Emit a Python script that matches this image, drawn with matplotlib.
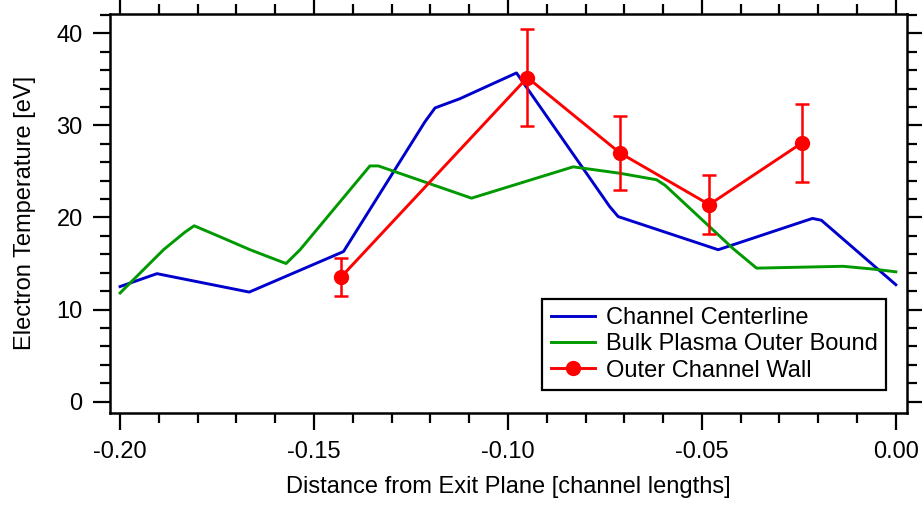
import matplotlib
matplotlib.use("Agg")
import matplotlib.pyplot as plt
from matplotlib.lines import Line2D
from matplotlib.ticker import MultipleLocator, FormatStrFormatter

plt.rcParams['font.family'] = ['Liberation Sans', 'DejaVu Sans']

# Channel Centerline
cl_x = [-0.2000, -0.1905, -0.1667, -0.1424, -0.1214, -0.1188, -0.1124, -0.0978,
        -0.0738, -0.0716, -0.0458, -0.0215, -0.0192, 0.0000]
cl_y = [12.5, 13.9, 11.9, 16.3, 30.4, 31.9, 32.9, 35.7,
        21.2, 20.1, 16.5, 19.9, 19.7, 12.7]

# Bulk Plasma Outer Bound
bp_x = [-0.2000, -0.1888, -0.1833, -0.1809, -0.1742, -0.1665, -0.1597, -0.1572,
        -0.1536, -0.1356, -0.1334, -0.1094, -0.0832, -0.0711, -0.0617, -0.0595,
        -0.0419, -0.0359, -0.0136, -0.0059, 0.0000]
bp_y = [11.8, 16.5, 18.4, 19.1, 17.9, 16.5, 15.4, 15.0,
        16.5, 25.6, 25.6, 22.1, 25.5, 24.8, 24.1, 23.5,
        16.6, 14.5, 14.7, 14.4, 14.1]

# Outer Channel Wall (with error bars)
ow_x = [-0.1431, -0.0950, -0.0711, -0.0481, -0.0242]
ow_y = [13.5, 35.2, 27.0, 21.4, 28.1]
ow_err = [2.05, 5.3, 4.0, 3.2, 4.2]

labels = ['Channel Centerline', 'Bulk Plasma Outer Bound', 'Outer Channel Wall']
colors = ['#0000CC', '#009900', '#FF0000']

fig = plt.figure(figsize=(9.22, 5.05), dpi=100)
ax = fig.add_axes([110/922, 1 - 412.7/505, 796.7/922, 398.7/505])

ax.plot(cl_x, cl_y, color=colors[0], lw=2.1, zorder=3)
ax.plot(bp_x, bp_y, color=colors[1], lw=2.1, zorder=3)
ax.errorbar(ow_x, ow_y, yerr=ow_err, color=colors[2], lw=2.1, marker='o', ms=10,
            elinewidth=1.8, capsize=5, capthick=1.8, zorder=4)

ax.set_xlim(-0.2026, 0.0028)
ax.set_ylim(-1.2, 42.1)

ax.xaxis.set_major_locator(MultipleLocator(0.05))
ax.xaxis.set_minor_locator(MultipleLocator(0.01))
ax.xaxis.set_major_formatter(FormatStrFormatter('%.2f'))
ax.yaxis.set_major_locator(MultipleLocator(10))
ax.yaxis.set_minor_locator(MultipleLocator(2))

for s in ax.spines.values():
    s.set_linewidth(1.8)

ax.tick_params(which='both', direction='out', width=1.6, top=True, right=True,
               labeltop=False, labelright=False, labelsize=17, colors='black')
ax.tick_params(which='major', length=12.2)
ax.tick_params(which='minor', length=7.2)
ax.tick_params(axis='x', which='major', pad=8.5)
ax.tick_params(axis='y', which='major', pad=7.5)

ax.set_xlabel('Distance from Exit Plane [channel lengths]', fontsize=17, labelpad=9)
ax.set_ylabel('Electron Temperature [eV]', fontsize=17, labelpad=15)

handles = [Line2D([], [], color=colors[0], lw=2.1),
           Line2D([], [], color=colors[1], lw=2.1),
           Line2D([], [], color=colors[2], lw=2.1, marker='o', ms=10)]
leg = ax.legend(handles, labels, loc='lower right', bbox_to_anchor=(0.974, 0.057),
                fontsize=17, frameon=True, fancybox=False, edgecolor='black',
                framealpha=1, borderpad=0.35, handlelength=1.9, handletextpad=0.44,
                labelspacing=0.18, borderaxespad=0)
leg.get_frame().set_linewidth(1.6)

fig.savefig('out.png', dpi=100)
